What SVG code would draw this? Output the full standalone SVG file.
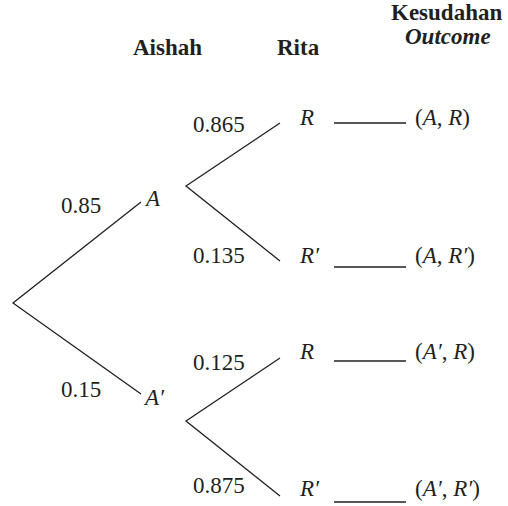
<svg xmlns="http://www.w3.org/2000/svg" width="508" height="506" viewBox="0 0 508 506">
<style>
text{font-family:'Liberation Serif','Times New Roman','DejaVu Serif',serif;font-size:23px;fill:#231f20}
.h{font-weight:bold}
.i{font-style:italic}
line,polyline{stroke:#231f20;stroke-width:1.3;fill:none}
</style>
<rect width="508" height="506" fill="#fff"/>
<g id="headers">
<text class="h" x="133" y="55">Aishah</text>
<text class="h" x="277" y="55">Rita</text>
<text class="h" x="391" y="20">Kesudahan</text>
<text class="h i" x="405" y="44">Outcome</text>
</g>
<g id="connectors">
<polyline points="141,202 13,303 141,394"/>
<polyline points="280,123 186,186 280,261"/>
<polyline points="280,358 186,421 280,496"/>
<line x1="334" y1="123" x2="406" y2="123"/>
<line x1="334" y1="267" x2="406" y2="267"/>
<line x1="334" y1="361" x2="406" y2="361"/>
<line x1="334" y1="502" x2="406" y2="502"/>
</g>
<g id="probs">
<text x="61" y="213">0.85</text>
<text x="61" y="397">0.15</text>
<text x="193" y="132">0.865</text>
<text x="193" y="263">0.135</text>
<text x="193" y="370">0.125</text>
<text x="193" y="493">0.875</text>
</g>
<g id="node-A"><text class="i" x="146" y="206">A</text></g>
<g id="node-A2"><text class="i" x="145" y="405">A′</text></g>
<g id="node-R1"><text class="i" x="300" y="125">R</text></g>
<g id="node-R2"><text class="i" x="300" y="263">R′</text></g>
<g id="node-R3"><text class="i" x="300" y="359">R</text></g>
<g id="node-R4"><text class="i" x="300" y="496">R′</text></g>
<g id="outcome-1"><text x="415" y="125">(<tspan class="i">A</tspan>, <tspan class="i">R</tspan>)</text></g>
<g id="outcome-2"><text x="415" y="263">(<tspan class="i">A</tspan>, <tspan class="i">R′</tspan>)</text></g>
<g id="outcome-3"><text x="415" y="359">(<tspan class="i">A′</tspan>, <tspan class="i">R</tspan>)</text></g>
<g id="outcome-4"><text x="415" y="496">(<tspan class="i">A′</tspan>, <tspan class="i">R′</tspan>)</text></g>
</svg>
